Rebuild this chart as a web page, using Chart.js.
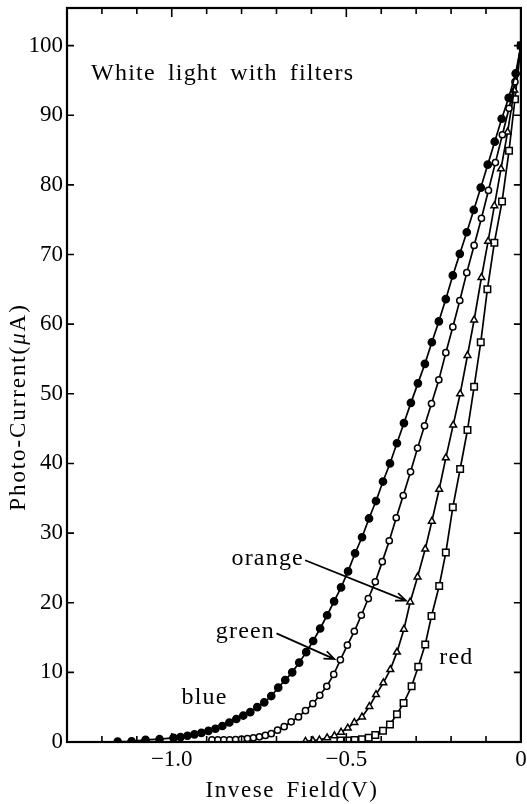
<!DOCTYPE html>
<html><head><meta charset="utf-8">
<script src="https://cdn.jsdelivr.net/npm/chart.js@4.4.1/dist/chart.umd.min.js"></script>
<style>html,body{margin:0;padding:0;background:#fff;overflow:hidden}#wrap{width:527px;height:804px}</style>
</head><body><div id="wrap"><canvas id="c" width="527" height="804"></canvas></div>
<script>
// ---- data (Inverse field in V, photo-current in uA) ----
const blueV = [-1.155,-1.115,-1.075,-1.035,-0.995,-0.975,-0.955,-0.935,-0.915,-0.895,-0.875,-0.855,-0.835,-0.815,-0.795,-0.775,-0.755,-0.735,-0.715,-0.695,-0.675,-0.655,-0.635,-0.615,-0.595,-0.575,-0.555,-0.535,-0.515,-0.495,-0.475,-0.455,-0.435,-0.415,-0.395,-0.375,-0.355,-0.335,-0.315,-0.295,-0.275,-0.255,-0.235,-0.215,-0.195,-0.175,-0.155,-0.135,-0.115,-0.095,-0.075,-0.055,-0.035,-0.015,0];
const blueI = [0.05,0.1,0.3,0.4,0.6,0.7,0.9,1.1,1.3,1.6,1.9,2.3,2.8,3.3,3.8,4.3,5.0,5.7,6.6,7.8,8.9,10.0,11.4,12.9,14.5,16.3,18.2,20.2,22.2,24.5,27.1,29.4,32.1,34.6,37.4,40.0,42.9,45.8,48.7,51.5,54.3,57.4,60.4,63.6,67.0,70.1,73.2,76.4,79.6,82.9,86.2,89.5,92.5,96.0,100];
const greenV = [-0.885,-0.868,-0.851,-0.834,-0.817,-0.800,-0.783,-0.766,-0.749,-0.732,-0.715,-0.697,-0.678,-0.658,-0.637,-0.617,-0.596,-0.576,-0.556,-0.536,-0.517,-0.497,-0.477,-0.457,-0.437,-0.417,-0.397,-0.377,-0.357,-0.337,-0.316,-0.296,-0.276,-0.256,-0.235,-0.215,-0.195,-0.175,-0.155,-0.134,-0.113,-0.093,-0.073,-0.053,-0.034,-0.017,0];
const greenI = [0.3,0.3,0.3,0.3,0.35,0.4,0.5,0.6,0.75,0.95,1.2,1.7,2.2,2.9,3.6,4.5,5.5,6.7,8.0,9.7,11.8,13.9,15.9,18.2,20.6,23.0,25.9,28.9,32.2,35.4,38.8,42.2,45.4,48.6,52.0,55.9,59.6,63.4,67.4,71.3,75.2,79.2,83.2,87.2,91.0,94.8,100];
const orangeV = [-0.617,-0.596,-0.577,-0.555,-0.534,-0.515,-0.496,-0.477,-0.455,-0.434,-0.415,-0.394,-0.374,-0.355,-0.335,-0.317,-0.296,-0.274,-0.255,-0.234,-0.215,-0.194,-0.174,-0.153,-0.134,-0.113,-0.094,-0.076,-0.057,-0.038,-0.019,0];
const orangeI = [0.1,0.2,0.3,0.6,0.9,1.4,2.0,2.8,3.6,5.1,6.8,8.5,10.4,12.9,16.2,20.1,23.7,27.7,31.7,36.3,40.8,45.5,50.0,55.5,60.6,66.7,71.9,77.0,82.3,87.6,93.6,100];
const redV = [-0.517,-0.496,-0.476,-0.455,-0.436,-0.417,-0.395,-0.375,-0.355,-0.336,-0.313,-0.294,-0.274,-0.256,-0.234,-0.215,-0.195,-0.174,-0.153,-0.134,-0.115,-0.096,-0.076,-0.054,-0.034,-0.017,0];
const redI = [0.2,0.2,0.3,0.4,0.6,1.0,1.6,2.5,4.0,5.6,8.0,10.8,14.0,18.1,22.4,27.2,33.7,39.2,44.8,51.0,57.4,65.0,71.7,77.6,84.9,92.3,100];
const xTickLabels = {"-1": "\u22121.0", "-0.5": "\u22120.5", "0": "0"};
const seriesNames = ["blue", "green", "orange", "red"];
const chartNote = "White light with filters";
const xTitle = "Invese Field(V)";
const yTitle = ["Photo-Current(", "\u03bc", "A)"];

// ---- annotation placement (data coordinates) ----
const noteAt = {v: -1.231, i: 95.1};
const nameAt = {blue: {v: -0.972, i: 5.4}, green: {v: -0.874, i: 15.0}, orange: {v: -0.829, i: 25.4}, red: {v: -0.234, i: 11.2}};
const arrows = [
  {from: {v: -0.618, i: 26.1}, to: {v: -0.329, i: 20.3}},
  {from: {v: -0.700, i: 15.6}, to: {v: -0.534, i: 11.9}}
];

const toPts = (xs, ys) => xs.map((x, k) => ({x, y: ys[k]}));
const INK = '#000';
const SERIF = '"Liberation Serif", "DejaVu Serif", serif';

function keyOf(v) { const r = Math.round(v * 10) / 10; return String(r === 0 ? 0 : r); }

const frame = {
  id: 'frame',
  afterDatasetsDraw(chart) {
    const {ctx, chartArea: a, scales: {x, y}} = chart;
    ctx.save();
    ctx.strokeStyle = INK;
    ctx.lineCap = 'butt';
    // inward ticks
    ctx.lineWidth = 1.6;
    x.ticks.forEach((t, k) => {
      const px = x.getPixelForTick(k);
      const L = xTickLabels[keyOf(t.value)] !== undefined ? 9 : 6;
      ctx.beginPath();
      ctx.moveTo(px, a.bottom); ctx.lineTo(px, a.bottom - L);
      ctx.moveTo(px, a.top); ctx.lineTo(px, a.top + L);
      ctx.stroke();
    });
    y.ticks.forEach((t, k) => {
      const py = y.getPixelForTick(k);
      ctx.beginPath();
      ctx.moveTo(a.left, py); ctx.lineTo(a.left + 7, py);
      ctx.moveTo(a.right, py); ctx.lineTo(a.right - 7, py);
      ctx.stroke();
    });
    ctx.lineWidth = 2.2;
    ctx.strokeRect(a.left, a.top, a.right - a.left, a.bottom - a.top);

    // texts
    ctx.fillStyle = INK;
    ctx.textBaseline = 'alphabetic';
    ctx.textAlign = 'left';
    ctx.font = '24px ' + SERIF;
    ctx.letterSpacing = '1.2px';
    ctx.wordSpacing = '5px';
    ctx.fillText(chartNote, x.getPixelForValue(noteAt.v), y.getPixelForValue(noteAt.i));
    ctx.wordSpacing = '0px';
    seriesNames.forEach(n => {
      ctx.fillText(n, x.getPixelForValue(nameAt[n].v), y.getPixelForValue(nameAt[n].i));
    });
    // arrows
    ctx.lineWidth = 1.7;
    arrows.forEach(ar => {
      const x1 = x.getPixelForValue(ar.from.v), y1 = y.getPixelForValue(ar.from.i);
      const x2 = x.getPixelForValue(ar.to.v), y2 = y.getPixelForValue(ar.to.i);
      const ang = Math.atan2(y2 - y1, x2 - x1);
      ctx.beginPath();
      ctx.moveTo(x1, y1); ctx.lineTo(x2, y2);
      const h = 11, w = 0.38;
      ctx.moveTo(x2 - h * Math.cos(ang - w), y2 - h * Math.sin(ang - w));
      ctx.lineTo(x2, y2);
      ctx.lineTo(x2 - h * Math.cos(ang + w), y2 - h * Math.sin(ang + w));
      ctx.stroke();
    });
    // axis titles
    ctx.letterSpacing = '1.6px';
    ctx.wordSpacing = '4px';
    ctx.textAlign = 'center';
    ctx.font = '23px ' + SERIF;
    ctx.fillText(xTitle, (a.left + a.right) / 2 - 2, 797);
    // y title, rotated
    ctx.save();
    ctx.translate(25, 407);
    ctx.rotate(-Math.PI / 2);
    ctx.textAlign = 'left';
    ctx.letterSpacing = '1.9px';
    const fN = '23px ' + SERIF, fI = 'italic 23px ' + SERIF;
    ctx.font = fN; const w0 = ctx.measureText(yTitle[0]).width;
    ctx.font = fI; const w1 = ctx.measureText(yTitle[1]).width;
    ctx.font = fN; const w2 = ctx.measureText(yTitle[2]).width;
    let sx = -(w0 + w1 + w2) / 2;
    ctx.font = fN; ctx.fillText(yTitle[0], sx, 0); sx += w0;
    ctx.font = fI; ctx.fillText(yTitle[1], sx, 0); sx += w1;
    ctx.font = fN; ctx.fillText(yTitle[2], sx, 0);
    ctx.restore();
    ctx.restore();
  }
};

const common = {showLine: true, borderColor: INK, borderWidth: 1.7, pointBorderColor: INK, pointBorderWidth: 1.5, pointHoverRadius: 0, tension: 0};

new Chart(document.getElementById('c'), {
  type: 'scatter',
  data: {
    datasets: [
      {...common, label: 'blue', data: toPts(blueV, blueI), pointStyle: 'circle', pointRadius: 3.6, pointBackgroundColor: INK},
      {...common, label: 'green', data: toPts(greenV, greenI), pointStyle: 'circle', pointRadius: 3.1, pointBackgroundColor: '#fff'},
      {...common, label: 'orange', data: toPts(orangeV, orangeI), pointStyle: 'triangle', pointRadius: 3.9, pointBackgroundColor: '#fff'},
      {...common, label: 'red', data: toPts(redV, redI), pointStyle: 'rect', pointRadius: 4.6, pointBackgroundColor: '#fff'}
    ]
  },
  options: {
    responsive: false,
    animation: false,
    devicePixelRatio: 1,
    layout: {padding: {top: 8, right: 5, left: 0, bottom: 0}},
    plugins: {legend: {display: false}, tooltip: {enabled: false}},
    scales: {
      x: {
        type: 'linear', min: -1.3, max: 0,
        grid: {display: false, drawTicks: false}, border: {display: false},
        ticks: {
          stepSize: 0.1, autoSkip: false, maxRotation: 0, includeBounds: false, padding: 4,
          color: INK, font: {family: SERIF, size: 23},
          callback: v => xTickLabels[keyOf(v)] ?? ''
        },
        afterFit: s => { s.height = 62; s.paddingLeft = 0; s.paddingRight = 0; }
      },
      y: {
        type: 'linear', min: 0, max: 105.4,
        grid: {display: false, drawTicks: false}, border: {display: false},
        ticks: {
          stepSize: 10, includeBounds: false, padding: 4,
          color: INK, font: {family: SERIF, size: 23},
          callback: v => String(Math.round(v))
        },
        afterFit: s => { s.width = 67; s.paddingTop = 0; s.paddingBottom = 0; }
      }
    }
  },
  plugins: [frame]
});
</script>
</body></html>
